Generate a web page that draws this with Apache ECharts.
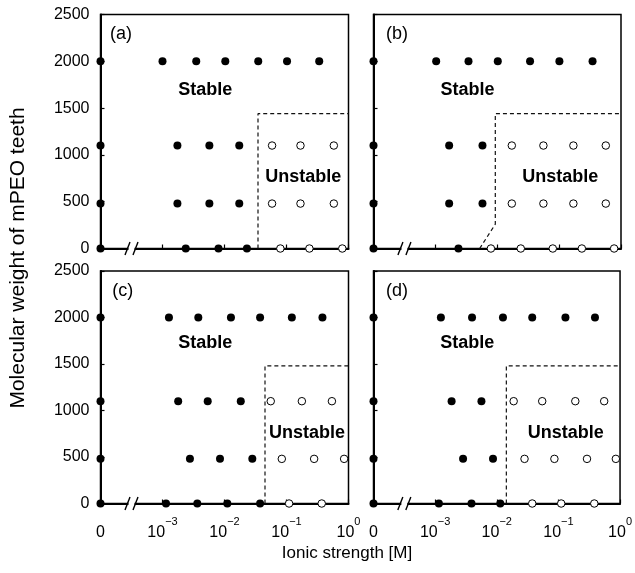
<!DOCTYPE html>
<html>
<head>
<meta charset="utf-8">
<title>Stability of mPEO-toothed particles vs ionic strength</title>
<script src="https://cdn.jsdelivr.net/npm/echarts@6/dist/echarts.min.js"></script>
<style>
  html, body { margin: 0; padding: 0; background: #fff; }
  #chart { width: 635px; height: 573px; }
</style>
</head>
<body>
<div id="chart"></div>
<script>
// ---- data: [ionic strength (M), mPEO molecular weight] ----
const PANEL_TAGS = ['(a)', '(b)', '(c)', '(d)'];
const Y_TICKS = [0, 500, 1000, 1500, 2000, 2500];
const X_TICK_EXPONENTS = [null, -3, -2, -1, 0]; // null -> plain "0" left of the break

const stableA = [
  [0, 2000], [0.001, 2000], [0.0035, 2000], [0.0103, 2000], [0.035, 2000], [0.102, 2000], [0.337, 2000],
  [0, 1100], [0.00174, 1100], [0.0057, 1100], [0.0173, 1100],
  [0, 480], [0.00174, 480], [0.0057, 480], [0.0173, 480],
  [0, 0], [0.00237, 0], [0.008, 0], [0.023, 0]
];
const unstableA = [
  [0.0585, 1100], [0.168, 1100], [0.58, 1100],
  [0.0585, 480], [0.168, 480], [0.58, 480],
  [0.0796, 0], [0.234, 0], [0.794, 0]
];
const boundaryA = [[0.0347, 0], [0.0347, 1440], [1, 1440]];

const stableB = [
  [0, 2000], [0.00103, 2000], [0.00343, 2000], [0.0102, 2000], [0.0339, 2000], [0.101, 2000], [0.347, 2000],
  [0, 1100], [0.00167, 1100], [0.00577, 1100],
  [0, 480], [0.00167, 480], [0.00577, 480],
  [0, 0], [0.00236, 0]
];
const unstableB = [
  [0.0172, 1100], [0.0557, 1100], [0.17, 1100], [0.568, 1100],
  [0.0172, 480], [0.0557, 480], [0.17, 480], [0.568, 480],
  [0.0079, 0], [0.024, 0], [0.079, 0], [0.233, 0], [0.774, 0]
];
const boundaryB = [[0.0052, 0], [0.0093, 260], [0.0093, 1440], [1, 1440]];

const stableC = [
  [0, 2000], [0.00127, 2000], [0.00378, 2000], [0.0127, 2000], [0.0375, 2000], [0.122, 2000], [0.38, 2000],
  [0, 1100], [0.00179, 1100], [0.00536, 1100], [0.0183, 1100],
  [0, 480], [0.00277, 480], [0.00846, 480], [0.0281, 480],
  [0, 0], [0.00114, 0], [0.00364, 0], [0.0111, 0], [0.0375, 0]
];
const unstableC = [
  [0.0557, 1100], [0.177, 1100], [0.54, 1100],
  [0.084, 480], [0.279, 480], [0.85, 480],
  [0.11, 0], [0.37, 0]
];
const boundaryC = [[0.045, 0], [0.045, 1480], [1, 1480]];

const stableD = [
  [0, 2000], [0.00124, 2000], [0.00397, 2000], [0.0126, 2000], [0.0376, 2000], [0.13, 2000], [0.392, 2000],
  [0, 1100], [0.00185, 1100], [0.00564, 1100],
  [0, 480], [0.00284, 480], [0.00869, 480],
  [0, 0], [0.00115, 0], [0.00389, 0], [0.0114, 0]
];
const unstableD = [
  [0.0188, 1100], [0.0546, 1100], [0.188, 1100], [0.553, 1100],
  [0.0282, 480], [0.0861, 480], [0.291, 480], [0.855, 480],
  [0.0376, 0], [0.111, 0], [0.382, 0]
];
const boundaryD = [[0.0143, 0], [0.0143, 1480], [1, 1480]];

// ---- helpers ----
const FONT = '"Liberation Sans", Arial, Helvetica, sans-serif';
// axis runs in decades: 0 M sits one decade left of 10^-3 (broken axis)
const toDecade = I => (I === 0 ? 0 : Math.log10(I) + 4);
const mapPts = pts => pts.map(p => [toDecade(p[0]), p[1]]);
const BREAK_AT = 0.5;

const panels = [
  { stable: stableA, unstable: unstableA, boundary: boundaryA },
  { stable: stableB, unstable: unstableB, boundary: boundaryB },
  { stable: stableC, unstable: unstableC, boundary: boundaryC },
  { stable: stableD, unstable: unstableD, boundary: boundaryD }
];

const grids = [
  { left: 100.5, top: 14.5, width: 248, height: 234 },
  { left: 373.5, top: 14.5, width: 247.5, height: 234 },
  { left: 100.5, top: 271, width: 248, height: 232.5 },
  { left: 373.5, top: 271, width: 247.5, height: 232.5 }
];

// annotation placement in axis units (decade, molecular weight)
const notes = [
  [{ t: PANEL_TAGS[0], x: 0.33, y: 2290 }, { t: 'Stable', x: 1.69, y: 1690 }, { t: 'Unstable', x: 3.27, y: 765 }],
  [{ t: PANEL_TAGS[1], x: 0.38, y: 2290 }, { t: 'Stable', x: 1.52, y: 1690 }, { t: 'Unstable', x: 3.02, y: 765 }],
  [{ t: PANEL_TAGS[2], x: 0.36, y: 2280 }, { t: 'Stable', x: 1.69, y: 1725 }, { t: 'Unstable', x: 3.33, y: 760 }],
  [{ t: PANEL_TAGS[3], x: 0.38, y: 2280 }, { t: 'Stable', x: 1.52, y: 1725 }, { t: 'Unstable', x: 3.12, y: 760 }]
];

const xAxes = [], yAxes = [], series = [];

panels.forEach((p, i) => {
  const bottomRow = i >= 2;
  const leftCol = i % 2 === 0;

  xAxes.push({
    type: 'value', gridIndex: i, min: 0, max: 4, interval: 1,
    axisLine: { show: true, onZero: false, lineStyle: { color: '#000', width: 2 } },
    axisTick: { show: true, inside: true, length: 4, lineStyle: { color: '#000', width: 1.2 } },
    splitLine: { show: false },
    axisLabel: {
      show: bottomRow, margin: 13, showMinLabel: true, showMaxLabel: true,
      formatter: v => {
        const e = X_TICK_EXPONENTS[Math.round(v)];
        return e === null ? '{b|0}' : '{b|10}{s|' + (e < 0 ? '\u2212' + (-e) : e) + '}';
      },
      rich: {
        b: { fontFamily: FONT, fontSize: 16, color: '#000', lineHeight: 24, verticalAlign: 'bottom' },
        s: { fontFamily: FONT, fontSize: 11, color: '#000', lineHeight: 13, verticalAlign: 'top' }
      }
    }
  });

  yAxes.push({
    type: 'value', gridIndex: i, min: Y_TICKS[0], max: Y_TICKS[Y_TICKS.length - 1], interval: 500,
    axisLine: { show: true, lineStyle: { color: '#000', width: 2 } },
    axisTick: { show: true, inside: true, length: 4, lineStyle: { color: '#000', width: 1.2 } },
    splitLine: { show: false },
    axisLabel: {
      show: leftCol, margin: 11, fontFamily: FONT, fontSize: 16, color: '#000',
      formatter: v => String(v)
    }
  });

  // dashed stability boundary
  series.push({
    type: 'line', xAxisIndex: i, yAxisIndex: i, data: mapPts(p.boundary),
    symbol: 'none', silent: true, z: 2,
    lineStyle: { color: '#111', width: 1.2, type: [4, 3] }
  });

  // stable (filled) points
  series.push({
    type: 'scatter', xAxisIndex: i, yAxisIndex: i, data: mapPts(p.stable),
    symbol: 'circle', symbolSize: 8, clip: false, z: 5,
    itemStyle: { color: '#000', opacity: 1 }
  });

  // unstable (open) points
  series.push({
    type: 'scatter', xAxisIndex: i, yAxisIndex: i, data: mapPts(p.unstable),
    symbol: 'circle', symbolSize: 7.5, clip: false, z: 5,
    itemStyle: { color: '#fff', borderColor: '#000', borderWidth: 1, opacity: 1 }
  });

  // axis break marks on the ionic strength axis
  series.push({
    type: 'custom', xAxisIndex: i, yAxisIndex: i, data: [[BREAK_AT, 0]],
    clip: false, silent: true, z: 6,
    renderItem: (params, api) => {
      const c = api.coord([api.value(0), api.value(1)]);
      const x = c[0], y = c[1];
      const st = { stroke: '#000', lineWidth: 1.4 };
      return {
        type: 'group',
        children: [
          { type: 'rect', shape: { x: x - 3, y: y - 2, width: 6, height: 4 }, style: { fill: '#fff' } },
          { type: 'line', shape: { x1: x - 6.5, y1: y + 6.5, x2: x - 1.5, y2: y - 6.5 }, style: st },
          { type: 'line', shape: { x1: x + 1.5, y1: y + 6.5, x2: x + 6.5, y2: y - 6.5 }, style: st }
        ]
      };
    }
  });

  // region and panel labels
  const noteData = notes[i].map(n => ({ name: n.t, value: [n.x, n.y] }));
  noteData[0].label = { fontWeight: 'normal' }; // panel tag in regular weight
  series.push({
    type: 'scatter', xAxisIndex: i, yAxisIndex: i, symbolSize: 0, silent: true, z: 7,
    data: noteData,
    itemStyle: { opacity: 1 },
    label: {
      show: true, position: 'inside', formatter: '{b}', color: '#000',
      fontFamily: FONT, fontSize: 18, fontWeight: 'bold'
    },
    labelLayout: { hideOverlap: false }
  });
});

const chart = echarts.init(document.getElementById('chart'), null, { renderer: 'canvas' });
chart.setOption({
  animation: false,
  backgroundColor: '#fff',
  grid: grids.map(g => Object.assign({ show: true, borderColor: '#000', borderWidth: 1.5, backgroundColor: 'transparent' }, g)),
  xAxis: xAxes,
  yAxis: yAxes,
  series: series,
  graphic: [
    {
      type: 'text', x: 18, y: 258, rotation: Math.PI / 2,
      style: {
        text: 'Molecular weight of mPEO teeth', font: '21px ' + FONT, fill: '#000',
        textAlign: 'center', textVerticalAlign: 'middle', align: 'center', verticalAlign: 'middle'
      }
    },
    {
      type: 'text', x: 347, y: 553,
      style: {
        text: 'Ionic strength [M]', font: '17px ' + FONT, fill: '#000',
        textAlign: 'center', textVerticalAlign: 'middle', align: 'center', verticalAlign: 'middle'
      }
    }
  ]
});
</script>
</body>
</html>
